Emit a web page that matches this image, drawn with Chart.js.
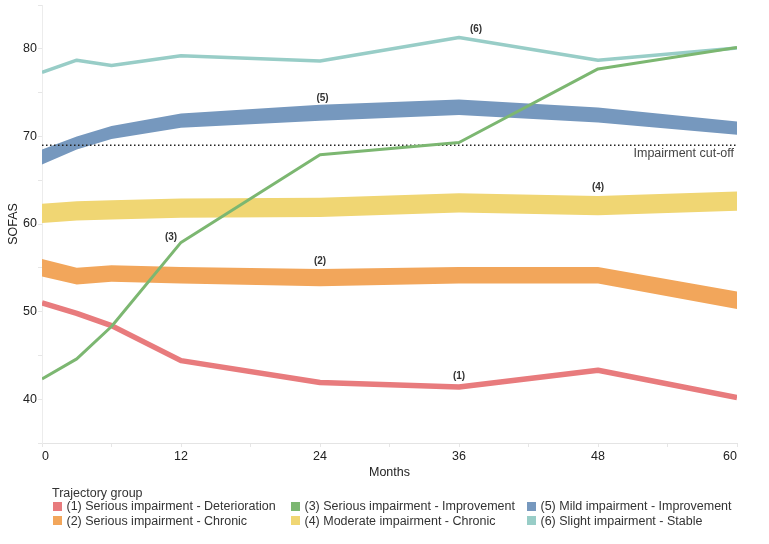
<!DOCTYPE html>
<html><head><meta charset="utf-8">
<script src="https://cdn.jsdelivr.net/npm/chart.js@4/dist/chart.umd.min.js"></script>
<style>
html,body{margin:0;padding:0;background:#fff;}
#wrap{position:relative;width:769px;height:544px;overflow:hidden;}
canvas{position:absolute;left:0;top:0;}
#legend{position:absolute;left:0;top:0;width:769px;height:544px;pointer-events:none;font-family:"Liberation Sans",Arial,sans-serif;font-size:12.5px;color:#333;}
.lt{position:absolute;left:52px;top:485px;line-height:16px;white-space:nowrap;}
.li{position:absolute;line-height:14px;white-space:nowrap;}
.sw{position:absolute;width:9px;height:9px;}
</style></head>
<body><div id="wrap"><canvas id="c" width="769" height="544"></canvas><div id="legend"></div></div>
<script>
// ---- data ----
const months = [0, 3, 6, 12, 24, 36, 48, 60];
const g1 = [51.0, 49.8, 48.4, 44.4, 41.9, 41.4, 43.3, 40.2];          // (1) line
const g2Low = [54.0, 53.1, 53.4, 53.2, 52.9, 53.2, 53.2, 50.3];      // (2) band
const g2High = [56.0, 55.0, 55.3, 55.1, 54.85, 55.1, 55.1, 52.3];
const g3 = [42.3, 44.6, 48.3, 57.9, 67.9, 69.3, 77.7, 80.15];          // (3) line
const g4Low = [60.1, 60.4, 60.5, 60.7, 60.8, 61.3, 61.0, 61.5];      // (4) band
const g4High = [62.3, 62.6, 62.7, 62.9, 63.0, 63.5, 63.2, 63.7];
const g5Low = [66.8, 68.5, 69.7, 71.0, 71.8, 72.45, 71.6, 70.2];     // (5) band
const g5High = [68.5, 70.0, 71.2, 72.6, 73.6, 74.2, 73.3, 71.7];
const g6 = [77.3, 78.7, 78.1, 79.2, 78.6, 81.3, 78.7, 80.1];           // (6) line
const cutoff = 69;
const groupNames = [
  '(1) Serious impairment - Deterioration',
  '(2) Serious impairment - Chronic',
  '(3) Serious impairment - Improvement',
  '(4) Moderate impairment - Chronic',
  '(5) Mild impairment - Improvement',
  '(6) Slight impairment - Stable'
];
const xTicks = [0, 12, 24, 36, 48, 60];
const yTicks = [40, 50, 60, 70, 80];

// ---- styles ----
const F = '"Liberation Sans", Arial, sans-serif';
const colors = ['#E87B7D', '#F2A65B', '#7CB771', '#F0D673', '#7698BE', '#98CDC7'];

const pts = arr => months.map((m, i) => ({x: m, y: arr[i]}));
const lineDs = (arr, color, w, order) => ({data: pts(arr), borderColor: color, borderWidth: w, pointRadius: 0, fill: false, tension: 0, borderJoinStyle: 'round', order});
const bandLow = (arr, color) => ({data: pts(arr), borderColor: 'rgba(0,0,0,0)', borderWidth: 1, pointRadius: 0, fill: false, tension: 0, order: 3});
const bandHigh = (arr, color) => ({data: pts(arr), borderColor: 'rgba(0,0,0,0)', borderWidth: 1, backgroundColor: color, pointRadius: 0, fill: '-1', tension: 0, order: 3});

const datasets = [
  lineDs(g1, colors[0], 5.5, 2),
  bandLow(g2Low, colors[1]), bandHigh(g2High, colors[1]),
  lineDs(g3, colors[2], 3, 0),
  bandLow(g4Low, colors[3]), bandHigh(g4High, colors[3]),
  bandLow(g5Low, colors[4]), bandHigh(g5High, colors[4]),
  lineDs(g6, colors[5], 3.5, 2),
  {data: [{x: months[0], y: cutoff}, {x: months[months.length-1], y: cutoff}], borderColor: '#222', borderWidth: 1.5, borderDash: [1.5, 2.5], pointRadius: 0, fill: false, order: 1}
];

const annotations = [
  {text: '(1)', arr: g1, i: 5, dx: 0, dy: -11},
  {text: '(2)', arr: g2High, i: 4, dx: 0, dy: -8},
  {text: '(3)', arr: g3, i: 3, dx: -10, dy: -5},
  {text: '(4)', arr: g4High, i: 6, dx: 0, dy: -9},
  {text: '(5)', arr: g5High, i: 4, dx: 2.5, dy: -6.5},
  {text: '(6)', arr: g6, i: 5, dx: 17, dy: -8.5}
];

const labelPlugin = {
  id: 'labels',
  afterDatasetsDraw(chart) {
    const {ctx, scales: {x, y}} = chart;
    ctx.save();
    ctx.fillStyle = '#333';
    ctx.font = 'bold 10px ' + F;
    ctx.textAlign = 'center';
    ctx.textBaseline = 'middle';
    annotations.forEach(a => {
      ctx.fillText(a.text, x.getPixelForValue(months[a.i]) + a.dx, y.getPixelForValue(a.arr[a.i]) + a.dy);
    });
    ctx.font = '12.5px ' + F;
    ctx.fillStyle = '#444';
    ctx.textAlign = 'right';
    ctx.fillText('Impairment cut-off', x.right - 3, y.getPixelForValue(cutoff) + 8.5);
    ctx.restore();
  }
};

new Chart(document.getElementById('c'), {
  type: 'line',
  data: {datasets},
  plugins: [labelPlugin],
  options: {
    responsive: false,
    animation: false,
    devicePixelRatio: 1,
    layout: {padding: {top: 5, right: 32, bottom: 63, left: 0}},
    plugins: {legend: {display: false}, tooltip: {enabled: false}},
    scales: {
      x: {
        type: 'linear', min: 0, max: 60,
        afterFit(s) { s.height = 38; s.paddingLeft = 0; s.paddingRight = 0; },
        afterBuildTicks(s) { s.ticks = [0, 6, 12, 18, 24, 30, 36, 42, 48, 54, 60].map(v => ({value: v})); },
        ticks: {autoSkip: false, align: 'inner', padding: 2, maxRotation: 0, color: '#222', font: {size: 12.5, family: F},
          callback: v => xTicks.includes(v) ? String(v) : ''},
        grid: {drawOnChartArea: false, tickLength: 4, color: '#e6e6e6'},
        border: {color: '#e4e4e4'},
        title: {display: true, text: 'Months', color: '#222', font: {size: 12.5, family: F}, padding: {top: 0, bottom: 1}}
      },
      y: {
        type: 'linear', min: 35, max: 85,
        afterFit(s) { s.width = 42; s.paddingTop = 0; s.paddingBottom = 0; },
        ticks: {stepSize: 5, autoSkip: false, padding: 1, color: '#222', font: {size: 12.5, family: F},
          callback: v => yTicks.includes(v) ? String(v) : ''},
        grid: {drawOnChartArea: false, tickLength: 4, color: '#e6e6e6'},
        border: {color: '#ececec'},
        title: {display: true, text: 'SOFAS', color: '#222', font: {size: 12.5, family: F}, padding: {top: 6, bottom: 4}}
      }
    }
  }
});

// ---- HTML legend ----
const leg = document.getElementById('legend');
const lt = document.createElement('div'); lt.className = 'lt'; lt.textContent = 'Trajectory group'; leg.appendChild(lt);
const colX = [53, 291, 527];
const rowY = [506, 520.5];
groupNames.forEach((name, k) => {
  const col = Math.floor(k / 2), row = k % 2;
  const sw = document.createElement('div'); sw.className = 'sw';
  sw.style.left = colX[col] + 'px'; sw.style.top = (rowY[row] - 4.5) + 'px'; sw.style.background = colors[k];
  leg.appendChild(sw);
  const t = document.createElement('div'); t.className = 'li';
  t.style.left = (colX[col] + 13.5) + 'px'; t.style.top = (rowY[row] - 7) + 'px'; t.textContent = name;
  leg.appendChild(t);
});
</script>
</body></html>
